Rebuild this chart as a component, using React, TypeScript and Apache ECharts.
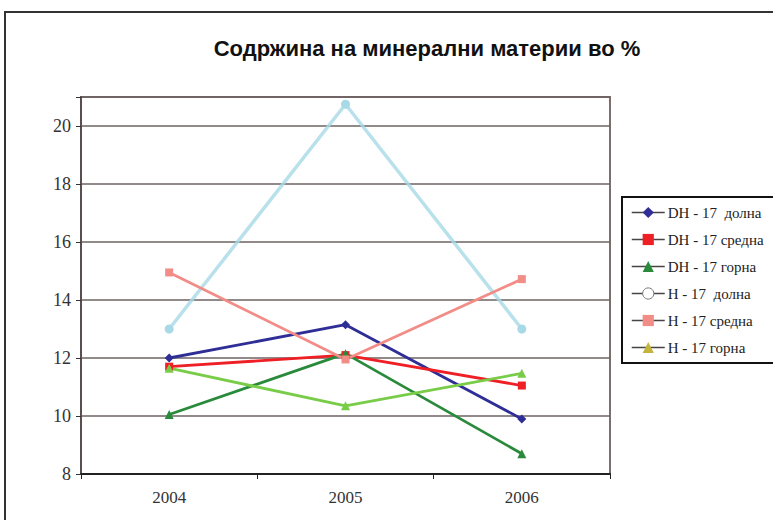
import React, { useEffect, useRef } from "react";
import * as echarts from "echarts";

const years = ["2004", "2005", "2006"];
const seriesNames = [
  "DH - 17  долна",
  "DH - 17 средна",
  "DH - 17 горна",
  "Н - 17  долна",
  "Н - 17 средна",
  "Н - 17 горна",
];
const dhDolna = [12.0, 13.15, 9.9];
const dhSredna = [11.7, 12.1, 11.05];
const dhGorna = [10.05, 12.15, 8.7];
const hDolna = [13.0, 20.75, 13.0];
const hSredna = [14.95, 11.95, 14.72];
const hGorna = [11.65, 10.35, 11.47];
const yTicks = [8, 10, 12, 14, 16, 18, 20];

const lineColors = ["#2e2e96", "#ee1f25", "#2a8a3c", "#a8d9e6", "#f28c86", "#78cc48"];
const symbols = ["diamond", "rect", "triangle", "circle", "rect", "triangle"];
const legendMarkerColors = ["#2e2e96", "#ee1f25", "#2a8a3c", "#ffffff", "#f28c86", "#c4b43c"];
const values = [dhDolna, dhSredna, dhGorna, hDolna, hSredna, hGorna];

export default function App() {
  const ref = useRef<HTMLDivElement>(null);
  useEffect(() => {
    const chart = echarts.init(ref.current!, null, { renderer: "svg" });
    chart.setOption({
      animation: false,
      backgroundColor: "#ffffff",
      title: {
        text: "Содржина на минерални материи во %",
        left: 422,
        textAlign: "center",
        top: 32,
        textStyle: {
          fontFamily: "Liberation Sans, Arial, sans-serif",
          fontWeight: "bold",
          fontSize: 22,
          color: "#111",
        },
      },
      graphic: [
        {
          type: "rect",
          shape: { x: 5, y: 12, width: 820, height: 560 },
          style: { fill: "none", stroke: "#333", lineWidth: 2 },
          silent: true,
        },
      ],
      grid: { left: 81, right: 163, top: 97, bottom: 46, show: true, borderColor: "#7a6e6e", borderWidth: 2, backgroundColor: "transparent" },
      xAxis: {
        type: "category",
        data: years,
        boundaryGap: true,
        axisLine: { lineStyle: { color: "#222", width: 2 } },
        axisTick: { show: true, length: 5, lineStyle: { color: "#222" } },
        axisLabel: {
          fontFamily: "Liberation Serif, Times New Roman, serif",
          fontSize: 17,
          color: "#333",
          margin: 15,
        },
      },
      yAxis: {
        type: "value",
        min: 8,
        max: 21,
        interval: 2,
        axisLine: { show: true, lineStyle: { color: "#5a4e4e", width: 2 } },
        axisTick: { show: true, length: 5, lineStyle: { color: "#333" } },
        axisLabel: {
          fontFamily: "Liberation Serif, Times New Roman, serif",
          fontSize: 18,
          color: "#333",
          margin: 10,
          formatter: (v: number) => (yTicks.indexOf(v) >= 0 ? String(v) : ""),
        },
        splitLine: { show: true, lineStyle: { color: "#6e6262", width: 1.5 } },
      },
      legend: {
        orient: "vertical",
        left: 622,
        top: 197,
        width: 200,
        padding: [8, 30, 8, 9],
        itemGap: 12,
        itemWidth: 33,
        itemHeight: 14,
        borderColor: "#111",
        borderWidth: 2,
        backgroundColor: "#fff",
        textStyle: {
          fontFamily: "Liberation Serif, Times New Roman, serif",
          fontSize: 15,
          color: "#222",
          padding: [0, 0, 0, -2],
        },
        data: seriesNames.map((n, i) => ({
          name: n,
          itemStyle: {
            color: legendMarkerColors[i],
            borderColor: i === 3 ? "#777" : legendMarkerColors[i],
            borderWidth: i === 3 ? 1 : 0,
          },
          lineStyle: { color: "#4a4444", width: 1.5, opacity: 1 },
        })),
      },
      series: seriesNames.map((n, i) => ({
        name: n,
        type: "line",
        data: values[i],
        symbol: symbols[i],
        symbolSize: i === 1 || i === 4 ? 8 : 9,
        lineStyle: { color: lineColors[i], width: i === 3 ? 3.5 : 2.8, opacity: i === 3 ? 0.8 : 1 },
        itemStyle: { color: lineColors[i], borderWidth: 0 },
        z: i === 3 ? 1 : 2,
      })),
    });
    return () => chart.dispose();
  }, []);
  return (
    <div
      ref={ref}
      style={{ position: "absolute", left: 0, top: 0, width: 773, height: 520 }}
    />
  );
}
